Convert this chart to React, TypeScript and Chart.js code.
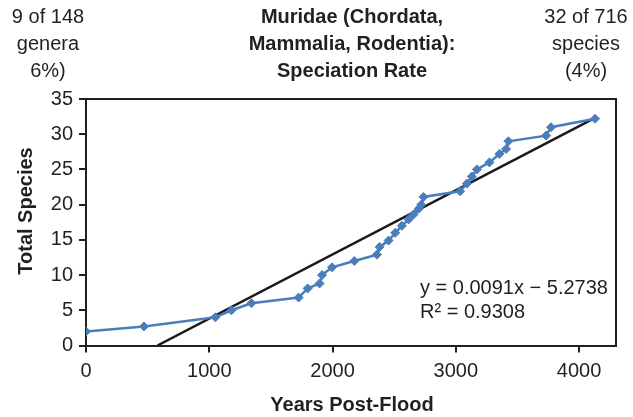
import React, { useEffect, useRef } from "react";
import { Chart, registerables } from "chart.js";

Chart.register(...registerables);

// ---- Data ----
const yearsPostFlood = [
  0, 470, 1050, 1180, 1342, 1725, 1798, 1895, 1915, 1996, 2177, 2360, 2382, 2455,
  2509, 2563, 2617, 2657, 2698, 2720, 2738, 3035, 3090, 3130, 3171, 3273, 3354,
  3408, 3427, 3733, 3773, 4130,
];
const totalSpecies = [
  2, 2.7, 4, 5, 6, 6.8, 8.1, 8.8, 10, 11.1, 12, 12.9, 14, 14.9, 16, 17, 17.9,
  18.6, 19.4, 20, 21.1, 21.9, 23, 24, 25, 26, 27.2, 27.9, 29, 29.8, 31, 32.2,
];
const trendSlope = 0.0091;
const trendIntercept = -5.2738;
const rSquared = 0.9308;

const xTicks = [0, 1000, 2000, 3000, 4000];
const yTicks = [0, 5, 10, 15, 20, 25, 30, 35];

const leftNote = ["9 of 148", "genera", "6%)"];
const titleLines = ["Muridae (Chordata,", "Mammalia, Rodentia):", "Speciation Rate"];
const rightNote = ["32 of 716", "species", "(4%)"];
const xTitle = "Years Post-Flood";
const yTitle = "Total Species";

const FONT_FAMILY = '"Liberation Sans", Arial, Helvetica, sans-serif';
const INK = "#231f20";
const BLUE = "#4a7ebb";

export default function App() {
  const canvasRef = useRef<HTMLCanvasElement | null>(null);

  useEffect(() => {
    const canvas = canvasRef.current;
    if (!canvas) return;

    const trendStartX = Math.max(0, -trendIntercept / trendSlope);
    const trendEndX = yearsPostFlood[yearsPostFlood.length - 1];
    const trendData = [trendStartX, trendEndX].map((x) => ({
      x,
      y: trendSlope * x + trendIntercept,
    }));
    const points = yearsPostFlood.map((x, i) => ({ x, y: totalSpecies[i] }));

    const textPlugin = {
      id: "extraText",
      beforeDatasetsDraw(chart: any) {
        const { ctx, chartArea } = chart;
        ctx.save();
        ctx.strokeStyle = INK;
        ctx.lineWidth = 2;
        ctx.beginPath();
        ctx.moveTo(chartArea.left, chartArea.top);
        ctx.lineTo(chartArea.right, chartArea.top);
        ctx.lineTo(chartArea.right, chartArea.bottom);
        ctx.stroke();
        ctx.restore();
      },
      afterDraw(chart: any) {
        const { ctx } = chart;
        ctx.save();
        ctx.fillStyle = INK;
        ctx.textAlign = "center";
        ctx.textBaseline = "middle";
        ctx.font = `20px ${FONT_FAMILY}`;
        leftNote.forEach((t, i) => ctx.fillText(t, 48, 17 + 27 * i));
        rightNote.forEach((t, i) => ctx.fillText(t, 586, 17 + 27 * i));
        ctx.font = `bold 20px ${FONT_FAMILY}`;
        titleLines.forEach((t, i) => ctx.fillText(t, 352, 17 + 27 * i));
        ctx.fillText(xTitle, 352, 405);
        ctx.save();
        ctx.translate(26, 211);
        ctx.rotate(-Math.PI / 2);
        ctx.fillText(yTitle, 0, 0);
        ctx.restore();
        ctx.font = `20px ${FONT_FAMILY}`;
        ctx.textAlign = "left";
        const sign = trendIntercept < 0 ? "\u2212" : "+";
        ctx.fillText(
          `y = ${trendSlope.toFixed(4)}x ${sign} ${Math.abs(trendIntercept).toFixed(4)}`,
          420,
          288
        );
        ctx.fillText(`R\u00b2 = ${rSquared.toFixed(4)}`, 420, 312);
        ctx.restore();
      },
    };

    const tickFont = { family: FONT_FAMILY, size: 20 };
    const gridOpts = {
      display: true,
      drawOnChartArea: false,
      drawTicks: true,
      tickLength: 7,
      color: INK,
      lineWidth: 2,
    };

    const chart = new Chart(canvas, {
      type: "scatter",
      data: {
        datasets: [
          {
            label: "Total Species",
            data: points,
            showLine: true,
            borderColor: BLUE,
            backgroundColor: BLUE,
            borderWidth: 2.5,
            pointStyle: "rectRot",
            pointRadius: 4.5,
            pointBorderWidth: 1,
            pointBackgroundColor: BLUE,
            pointBorderColor: BLUE,
          },
          {
            label: "Trend",
            data: trendData,
            showLine: true,
            borderColor: "#1a1a1a",
            borderWidth: 2.5,
            pointRadius: 0,
          },
        ],
      },
      options: {
        responsive: false,
        animation: false,
        devicePixelRatio: 1,
        layout: { padding: { top: 99, right: 17, bottom: 0, left: 0 } },
        plugins: {
          legend: { display: false },
          tooltip: { enabled: false },
          title: { display: false },
        },
        scales: {
          x: {
            type: "linear",
            min: 0,
            max: 4300,
            afterFit: (s: any) => {
              s.height = 71.5;
            },
            afterBuildTicks: (s: any) => {
              s.ticks = xTicks.map((v) => ({ value: v }));
            },
            ticks: {
              includeBounds: false,
              font: tickFont,
              color: INK,
              padding: 7,
              maxRotation: 0,
              callback: (v: any) => String(v),
            },
            grid: gridOpts,
            border: { display: true, color: INK, width: 2 },
          },
          y: {
            type: "linear",
            min: 0,
            max: 35,
            afterFit: (s: any) => {
              s.width = 86;
            },
            afterBuildTicks: (s: any) => {
              s.ticks = yTicks.map((v) => ({ value: v }));
            },
            ticks: {
              font: tickFont,
              color: INK,
              padding: 6,
              callback: (v: any) => String(v),
            },
            grid: gridOpts,
            border: { display: true, color: INK, width: 2 },
          },
        },
      },
      plugins: [textPlugin],
    } as any);

    return () => chart.destroy();
  }, []);

  return (
    <div style={{ position: "absolute", left: 0, top: 0, width: 633, height: 417, background: "#fff" }}>
      <canvas ref={canvasRef} width={633} height={417} style={{ display: "block" }} />
    </div>
  );
}
